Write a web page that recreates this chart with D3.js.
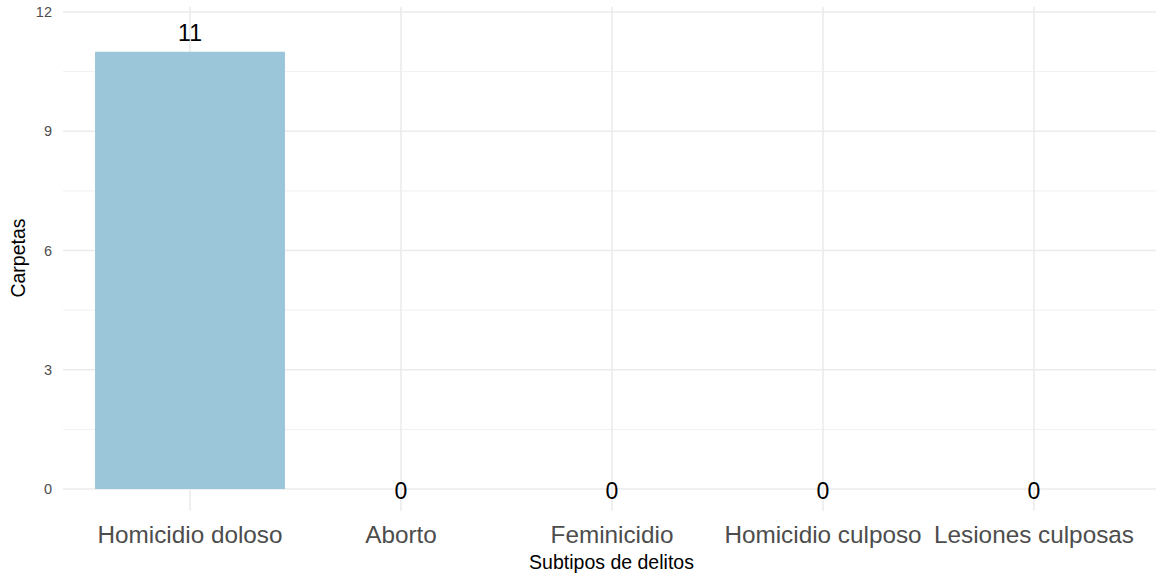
<!DOCTYPE html>
<html><head><meta charset="utf-8">
<script src="https://cdn.jsdelivr.net/npm/d3@7"></script>
<style>body{margin:0;background:#fff;}svg{display:block;font-family:"Liberation Sans",Arial,sans-serif;}</style>
</head><body>
<svg id="c" width="1156" height="575"></svg>
<script>
(function(){
const categories = ["Homicidio doloso","Aborto","Feminicidio","Homicidio culposo","Lesiones culposas"];
const values = [11,0,0,0,0];
const yTicks = [0,3,6,9,12];
const yMinor = [1.5,4.5,7.5,10.5];

const svg = d3.select("#c");
const x = d3.scaleLinear().domain([0.4,5.6]).range([63.4,1160.6]);
const y = d3.scaleLinear().domain([0,12]).range([489,12]);
const panelTop = y(12.13), panelBottom = y(-0.55);
const left = 63, right = 1156;

const g = svg.append("g");
g.selectAll(".minor").data(yMinor).enter().append("line")
  .attr("x1",left).attr("x2",right).attr("y1",d=>y(d)).attr("y2",d=>y(d))
  .attr("stroke","#f0f0f0").attr("stroke-width",1);
g.selectAll(".major").data(yTicks).enter().append("line")
  .attr("x1",left).attr("x2",right).attr("y1",d=>y(d)).attr("y2",d=>y(d))
  .attr("stroke","#ebebeb").attr("stroke-width",1.6);
g.selectAll(".vg").data(categories).enter().append("line")
  .attr("x1",(d,i)=>x(i+1)).attr("x2",(d,i)=>x(i+1)).attr("y1",panelTop).attr("y2",panelBottom)
  .attr("stroke","#ebebeb").attr("stroke-width",1.6);

const bw = (x(1.9)-x(1));
g.selectAll(".bar").data(values).enter().append("rect")
  .attr("x",(d,i)=>x(i+1)-bw/2).attr("width",bw)
  .attr("y",d=>y(d)).attr("height",d=>y(0)-y(d))
  .attr("fill","#9bc6d9");

g.selectAll(".vl").data(values).enter().append("text")
  .attr("x",(d,i)=>x(i+1)).attr("y",d=>d>0? y(d)-11 : y(d)+10)
  .attr("text-anchor","middle").attr("font-size",23).attr("fill","#000")
  .text(d=>d);

g.selectAll(".yt").data(yTicks).enter().append("text")
  .attr("x",52).attr("y",d=>y(d)+5).attr("text-anchor","end")
  .attr("font-size",14.5).attr("fill","#4d4d4d").text(d=>d);

g.selectAll(".xt").data(categories).enter().append("text")
  .attr("x",(d,i)=>x(i+1)).attr("y",543).attr("text-anchor","middle")
  .attr("font-size",24.3).attr("fill","#4d4d4d").text(d=>d);

svg.append("text").attr("x",(left+1160)/2).attr("y",569).attr("text-anchor","middle")
  .attr("font-size",19.5).attr("fill","#000").text("Subtipos de delitos");
svg.append("text").attr("transform","translate(25,258) rotate(-90)").attr("text-anchor","middle")
  .attr("font-size",19.5).attr("fill","#000").text("Carpetas");
})();
</script>
</body></html>
